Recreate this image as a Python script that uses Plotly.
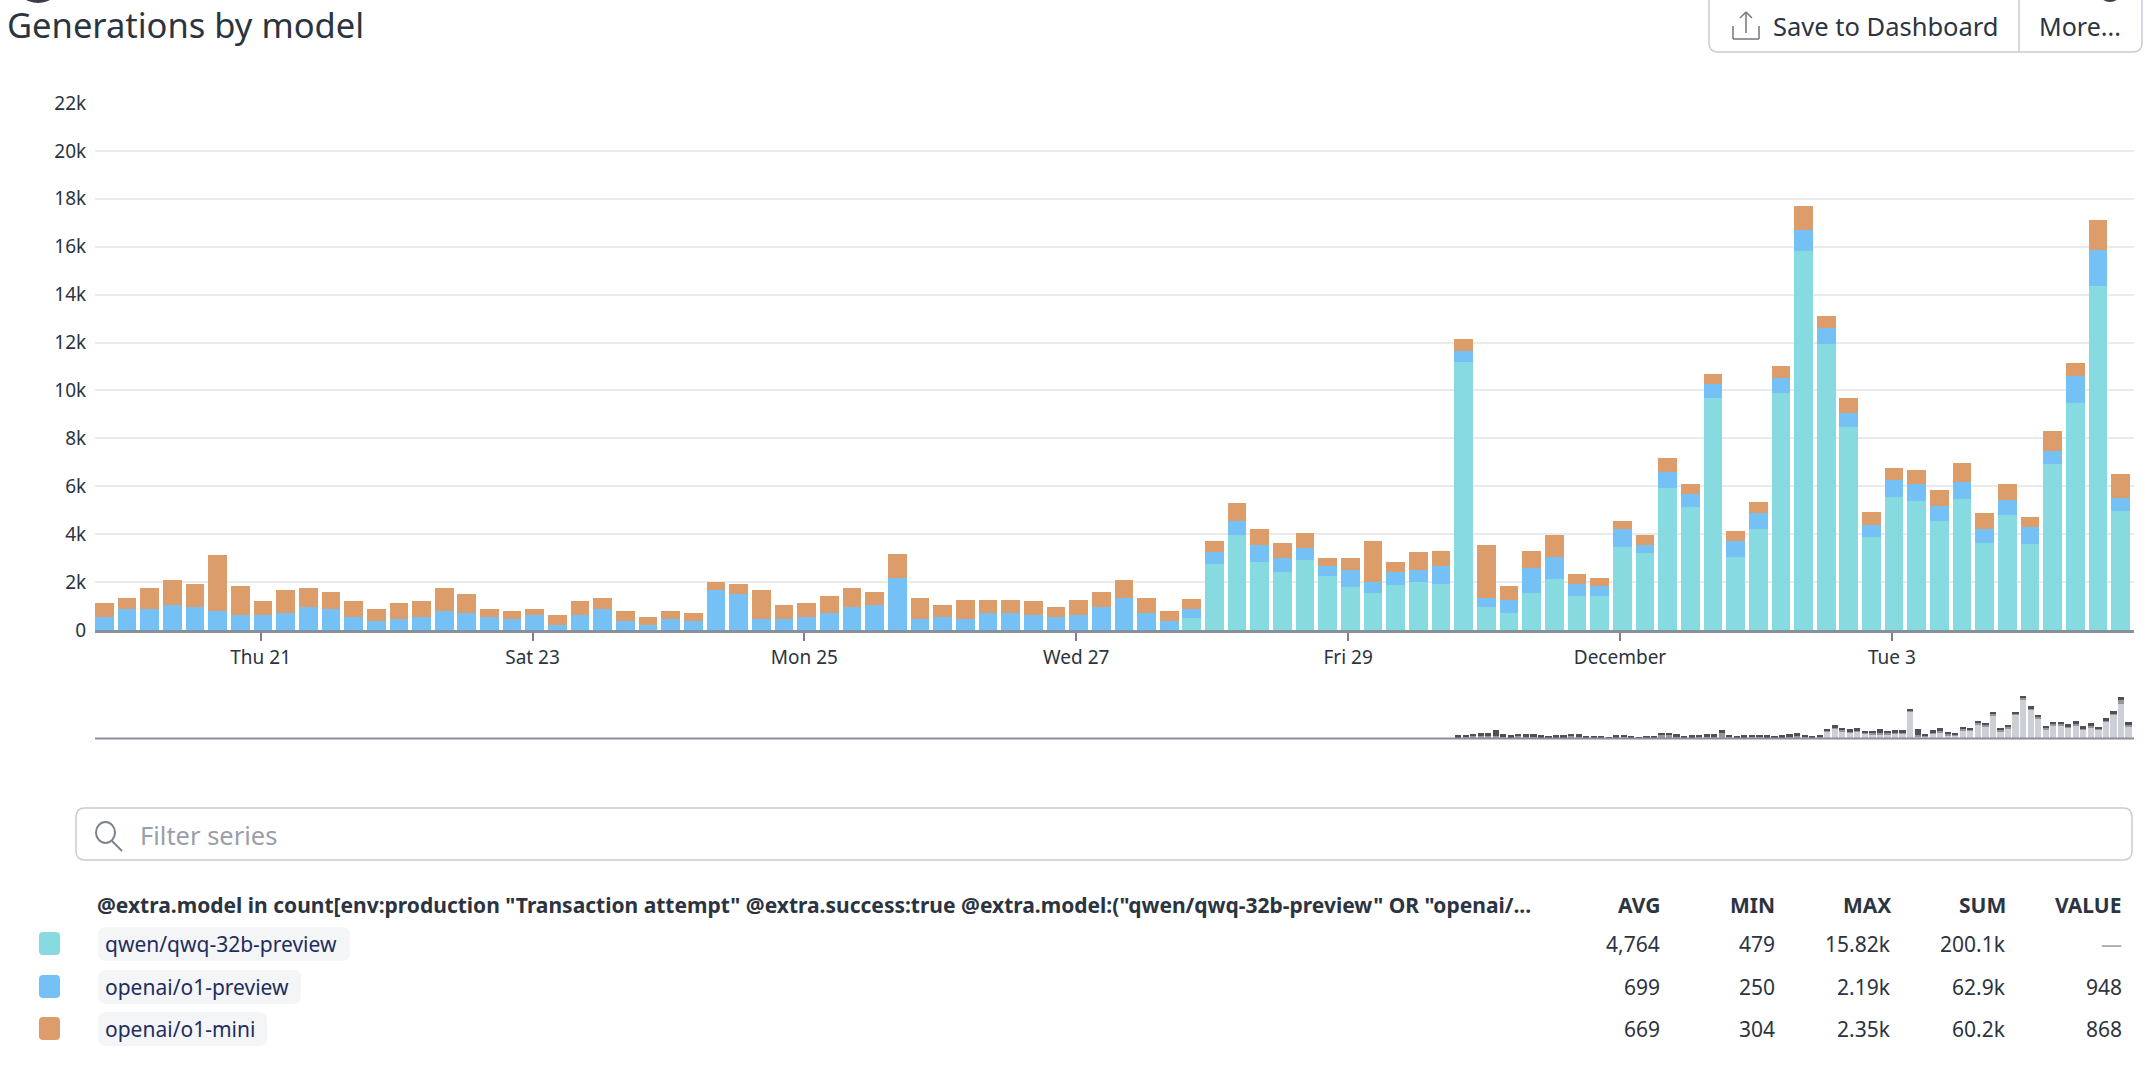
import pandas as pd
import plotly.graph_objects as go

W, H = 2152, 1066
FONT = "Noto Sans"

bar_times = pd.date_range("2024-11-19 20:24", periods=90, freq="4h")

qwen = [0]*48 + [487, 2740, 3964, 2823, 2420, 2921, 2253, 1780, 1530, 1864, 2017, 1933,
        11168, 946, 695, 1530, 2114, 1433, 1433, 3477, 3227, 5939, 5118, 9680, 3060, 4214,
        9875, 15814, 11919, 8456, 3894, 5535, 5369, 4548, 5452, 3630, 4784, 3588, 6912,
        9457, 14353, 4965]
o1_preview = [529, 862, 862, 1029, 946, 779, 612, 612, 695, 946, 862, 529, 362, 459, 529,
              779, 695, 529, 459, 612, 209, 612, 862, 362, 209, 459, 362, 1683, 1516, 459,
              459, 529, 695, 946, 1029, 2184, 459, 529, 459, 695, 695, 612, 529, 612, 946,
              1349, 695, 376, 375, 501, 570, 737, 570, 487, 403, 723, 487, 556, 486, 723,
              487, 403, 571, 1043, 946, 486, 417, 737, 333, 640, 557, 584, 654, 654, 626,
              890, 696, 584, 487, 724, 723, 640, 723, 584, 654, 696, 571, 1127, 1530, 557]
o1_mini = [584, 487, 904, 1057, 973, 2350, 1238, 584, 974, 820, 737, 667, 500, 654, 667,
           987, 821, 333, 320, 250, 403, 584, 487, 417, 320, 320, 333, 320, 403, 1210,
           570, 584, 738, 820, 570, 973, 890, 500, 807, 571, 571, 584, 417, 654, 653,
           737, 654, 417, 418, 486, 751, 654, 654, 639, 334, 487, 1710, 403, 738, 654,
           473, 2211, 584, 737, 904, 418, 320, 320, 404, 584, 417, 404, 417, 487, 500,
           987, 501, 640, 556, 486, 570, 653, 807, 654, 654, 417, 820, 570, 1238, 973]

y_ticks = [0, 2000, 4000, 6000, 8000, 10000, 12000, 14000, 16000, 18000, 20000, 22000]
y_labels = ["0", "2k", "4k", "6k", "8k", "10k", "12k", "14k", "16k", "18k", "20k", "22k"]
x_ticks = ["2024-11-21", "2024-11-23", "2024-11-25", "2024-11-27", "2024-11-29", "2024-12-01", "2024-12-03"]
x_labels = ["Thu 21", "Sat 23", "Mon 25", "Wed 27", "Fri 29", "December", "Tue 3"]
x_start, x_end = "2024-11-19 18:45", "2024-12-04 18:45"

series_names = ["qwen/qwq-32b-preview", "openai/o1-preview", "openai/o1-mini"]
colors = ["#87dadf", "#75c0f4", "#dd9d6a"]
mini_colors = ["#ccd0d6", "#94969d", "#4e5056"]
header = '@extra.model in count[env:production "Transaction attempt" @extra.success:true @extra.model:("qwen/qwq-32b-preview" OR "openai/...'
columns = ["AVG", "MIN", "MAX", "SUM", "VALUE"]
rows = [["4,764", "479", "15.82k", "200.1k", "—"],
        ["699", "250", "2.19k", "62.9k", "948"],
        ["669", "304", "2.35k", "60.2k", "868"]]


def px(x):
    return x / W


def py(y):
    return 1 - y / H


def rounded(x0, y0, x1, y1, r):
    a, b, c, d = px(x0), py(y0), px(x1), py(y1)
    rx, ry = r / W, r / H
    return (f"M{a+rx},{b} L{c-rx},{b} Q{c},{b} {c},{b-ry} L{c},{d+ry} Q{c},{d} {c-rx},{d} "
            f"L{a+rx},{d} Q{a},{d} {a},{d+ry} L{a},{b-ry} Q{a},{b} {a+rx},{b} Z")


fig = go.Figure()
for name, vals, col, mcol in zip(series_names, [qwen, o1_preview, o1_mini], colors, mini_colors):
    fig.add_bar(x=bar_times, y=vals, name=name, marker_color=col, marker_line_width=0,
                xaxis="x", yaxis="y", showlegend=False)
    fig.add_bar(x=bar_times, y=vals, name=name, marker_color=mcol, marker_line_width=0,
                xaxis="x2", yaxis="y2", showlegend=False)

shapes = []
annotations = []


def text(x, y, s, size, color, anchor="left", bold=False):
    annotations.append(dict(x=px(x), y=py(y), xref="paper", yref="paper", text=f"<b>{s}</b>" if bold else s,
                            showarrow=False, xanchor=anchor, yanchor="middle", align=anchor,
                            xshift=0, borderpad=0, borderwidth=0,
                            font=dict(family=FONT, size=size, color=color)))


def shape_path(path, fill="rgba(0,0,0,0)", line="rgba(0,0,0,0)", width=1, layer="above"):
    shapes.append(dict(type="path", path=path, xref="paper", yref="paper", fillcolor=fill,
                       line=dict(color=line, width=width), layer=layer))


def seg(x0, y0, x1, y1, color, width):
    shapes.append(dict(type="line", x0=px(x0), y0=py(y0), x1=px(x1), y1=py(y1), xref="paper", yref="paper",
                       line=dict(color=color, width=width), layer="above"))


# Title and toolbar
text(7, 25, "Generations by model", 34.5, "#2b3440")
shape_path(rounded(1709, -8, 2142, 52, 9), line="#c8ccd6", width=1.5)
seg(2019, 0, 2019, 52, "#c8ccd6", 1.5)
text(1773, 26, "Save to Dashboard", 25.5, "#2b3440")
text(2039, 26, "More...", 25, "#2b3440")
seg(1733, 26, 1733, 39, "#6f7480", 1.5)
seg(1733, 39, 1759, 39, "#6f7480", 1.5)
seg(1759, 26, 1759, 39, "#6f7480", 1.5)
seg(1746, 12, 1746, 33, "#6f7480", 1.5)
seg(1740, 18, 1746, 12, "#6f7480", 1.5)
seg(1752, 18, 1746, 12, "#6f7480", 1.5)
# Edges of round icons cut off by the top of the picture
shapes.append(dict(type="circle", x0=px(14), x1=px(62), y0=py(-44), y1=py(3), xref="paper", yref="paper",
                   fillcolor="#3a3f48", line_width=0))
shapes.append(dict(type="circle", x0=2098 / W, x1=2122 / W, y0=py(-22), y1=py(2), xref="paper", yref="paper",
                   fillcolor="#3a3f48", line_width=0))

# Overview baseline
seg(95, 738.5, 2134, 738.5, "#8a8f9c", 2)

# Filter box
shape_path(rounded(76, 808, 2132, 860, 9), line="#c8ccd6", width=1.5)
shapes.append(dict(type="circle", x0=px(96), x1=px(115), y0=py(843), y1=py(822), xref="paper", yref="paper",
                   line=dict(color="#7c818c", width=2)))
seg(112, 841, 122, 851, "#7c818c", 2)
text(140, 835, "Filter series", 25.5, "#9a9ea8")

# Table
text(97, 905, header, 21, "#2b3440", bold=True)
col_right = [1660, 1775, 1891, 2006, 2122]
for c, x in zip(columns, col_right):
    text(x, 905, c, 21, "#2b3440", anchor="right", bold=True)

row_y = [944, 987, 1029]
pill_right = [350, 301, 267]
for ry_, name, col, pr, vals in zip(row_y, series_names, colors, pill_right, rows):
    shape_path(rounded(39, ry_ - 12, 60, ry_ + 11, 4), fill=col)
    shape_path(rounded(98, ry_ - 17, pr, ry_ + 17, 8), fill="#f4f5f6")
    text(105, ry_, name, 21, "#1f2d5f")
    for v, x in zip(vals, col_right):
        text(x, ry_, v, 21, "#a6a9b0" if v == "—" else "#2b3440", anchor="right")

fig.update_layout(
    width=W, height=H, autosize=False,
    margin=dict(l=0, r=0, t=0, b=0),
    paper_bgcolor="#ffffff", plot_bgcolor="#ffffff",
    barmode="stack", bargap=0.175,
    font=dict(family=FONT, size=19, color="#2b3440"),
    shapes=shapes, annotations=annotations,
    xaxis=dict(domain=[px(95), px(2134)], type="date", range=[x_start, x_end], automargin=False,
               tickmode="array", tickvals=x_ticks, ticktext=x_labels,
               ticks="outside", ticklen=8, tickwidth=2, tickcolor="#7b8090",
               showline=True, linecolor="#8a8f9c", linewidth=2.5, showgrid=False, zeroline=False,
               tickfont=dict(size=19, color="#2b3440"), anchor="y"),
    yaxis=dict(domain=[py(630), py(103)], range=[0, 22000], automargin=False,
               tickmode="array", tickvals=y_ticks, ticktext=y_labels,
               ticks="outside", ticklen=4, tickcolor="rgba(0,0,0,0)",
               showgrid=True, gridcolor="#e9ebef", gridwidth=1.5, zeroline=False, showline=False,
               tickfont=dict(size=19, color="#2b3440"), anchor="x"),
    xaxis2=dict(domain=[px(1455), px(2133)], type="date", range=[x_start, x_end], automargin=False,
                visible=False, anchor="y2"),
    yaxis2=dict(domain=[py(738), py(695.5)], range=[0, 17691], automargin=False, visible=False, anchor="x2"),
)

fig.write_html("out.html", config={"displayModeBar": False},
               post_script="document.body.style.margin='0';document.body.style.overflow='hidden';")
